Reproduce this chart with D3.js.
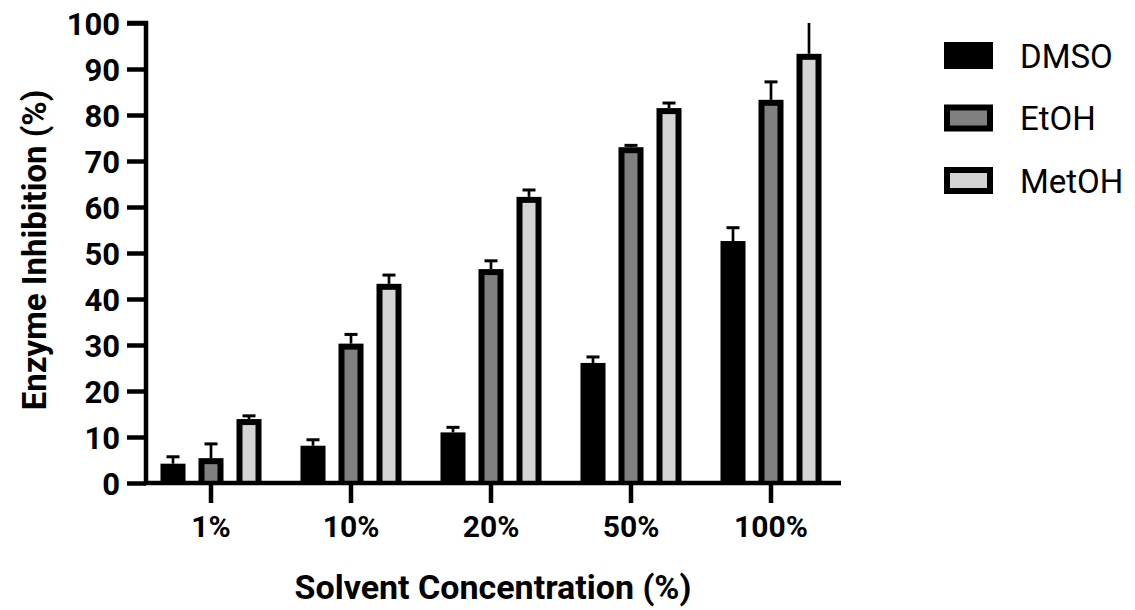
<!DOCTYPE html>
<html>
<head>
<meta charset="utf-8">
<script src="https://cdn.jsdelivr.net/npm/d3@7"></script>
<style>
  html, body { margin: 0; padding: 0; background: #fff; }
  svg { display: block; }
  text { font-family: Roboto, "DejaVu Sans", sans-serif; fill: #000; }
</style>
</head>
<body>
<svg id="chart" width="1135" height="610"></svg>
<script>
// Solvent concentrations on the x axis
const categories = ["1%", "10%", "20%", "50%", "100%"];
const seriesNames = ["DMSO", "EtOH", "MetOH"];
const seriesFills = ["#000000", "#808080", "#d4d4d4"];

// Mean enzyme inhibition (%) and error (upper whisker) per solvent
const dmsoMean  = [4.2, 8.1, 11.0, 26.1, 52.6];
const dmsoErr   = [1.5, 1.3, 1.1, 1.3, 2.9];
const etohMean  = [5.4, 30.3, 46.5, 73.0, 83.3];
const etohErr   = [3.1, 2.0, 1.8, 0.4, 3.9];
const metohMean = [13.9, 43.3, 62.2, 81.5, 93.3];
const metohErr  = [0.7, 1.9, 1.5, 1.1, 8.0];

const yTicks = [0, 10, 20, 30, 40, 50, 60, 70, 80, 90, 100];

const means = [dmsoMean, etohMean, metohMean];
const errs = [dmsoErr, etohErr, metohErr];

const svg = d3.select("#chart");

const plot = { left: 146, right: 841, top: 23, bottom: 483 };

const x0 = d3.scaleBand().domain(categories).range([141, 841]);
const x1 = d3.scaleBand().domain(seriesNames).range([0, x0.bandwidth()])
  .paddingInner(0.342).paddingOuter(0.513);
const y = d3.scaleLinear().domain([0, 100]).range([plot.bottom, plot.top]);

const border = 6;

svg.append("defs").append("clipPath").attr("id", "plotClip")
  .append("rect")
  .attr("x", plot.left).attr("y", plot.top)
  .attr("width", plot.right - plot.left).attr("height", plot.bottom - plot.top);

const data = [];
categories.forEach((c, i) => {
  seriesNames.forEach((s, j) => {
    data.push({ cat: c, series: s, j, value: means[j][i], err: errs[j][i] });
  });
});

const bars = svg.append("g").attr("clip-path", "url(#plotClip)");

const g = bars.selectAll("g.bar").data(data).join("g").attr("class", "bar");

// error whiskers (drawn first so bar border covers the base)
g.append("line")
  .attr("x1", d => x0(d.cat) + x1(d.series) + x1.bandwidth() / 2)
  .attr("x2", d => x0(d.cat) + x1(d.series) + x1.bandwidth() / 2)
  .attr("y1", d => y(d.value))
  .attr("y2", d => y(d.value + d.err))
  .attr("stroke", "#000").attr("stroke-width", 2.7);
g.append("line")
  .attr("x1", d => x0(d.cat) + x1(d.series) + x1.bandwidth() / 2 - 6.5)
  .attr("x2", d => x0(d.cat) + x1(d.series) + x1.bandwidth() / 2 + 6.5)
  .attr("y1", d => y(d.value + d.err))
  .attr("y2", d => y(d.value + d.err))
  .attr("stroke", "#000").attr("stroke-width", 3);

// outer black frame of each bar
g.append("rect")
  .attr("x", d => x0(d.cat) + x1(d.series))
  .attr("y", d => y(d.value))
  .attr("width", x1.bandwidth())
  .attr("height", d => y(0) - y(d.value))
  .attr("fill", "#000");

// inner fill
g.filter(d => d.j > 0).append("rect")
  .attr("x", d => x0(d.cat) + x1(d.series) + border)
  .attr("y", d => y(d.value) + border)
  .attr("width", x1.bandwidth() - 2 * border)
  .attr("height", d => Math.max(0, y(0) - y(d.value) - border))
  .attr("fill", d => seriesFills[d.j]);

// y axis
const yAxis = d3.axisLeft(y).tickValues(yTicks).tickSize(19).tickPadding(7);
const yg = svg.append("g").attr("transform", `translate(${plot.left},0)`).call(yAxis);
yg.select(".domain").attr("stroke-width", 4.5).attr("d", `M-19,${plot.top}H0V${plot.bottom + 2}`);
yg.selectAll(".tick line").attr("stroke-width", 4.5);
yg.selectAll(".tick text")
  .style("font-size", "31px").style("font-weight", "700")
  .attr("font-family", null).attr("dy", "0.36em");

// x axis
const xAxis = d3.axisBottom(x0).tickSize(20).tickPadding(13);
const xg = svg.append("g").attr("transform", `translate(0,${plot.bottom})`).call(xAxis);
xg.select(".domain").attr("stroke-width", 4.5).attr("d", `M${plot.left - 2},0H${plot.right}`);
xg.selectAll(".tick line").attr("stroke-width", 4.5);
xg.selectAll(".tick text")
  .style("font-size", "30px").style("font-weight", "700")
  .attr("font-family", null);

// axis titles
svg.append("text")
  .attr("transform", "translate(46,250) rotate(-90)")
  .attr("text-anchor", "middle")
  .style("font-size", "33px").style("font-weight", "700")
  .text("Enzyme Inhibition (%)");

svg.append("text")
  .attr("x", 493).attr("y", 599)
  .attr("text-anchor", "middle")
  .style("font-size", "34px").style("font-weight", "700")
  .text("Solvent Concentration (%)");

// legend
const legend = svg.append("g").attr("transform", "translate(944,42)");
const li = legend.selectAll("g").data(seriesNames).join("g")
  .attr("transform", (d, i) => `translate(0,${i * 62.5})`);
li.append("rect").attr("width", 49).attr("height", 27).attr("fill", "#000");
li.filter((d, i) => i > 0).append("rect")
  .attr("x", border).attr("y", border)
  .attr("width", 49 - 2 * border).attr("height", 27 - 2 * border)
  .attr("fill", (d, i) => seriesFills[i + 1]);
li.append("text")
  .attr("x", 76).attr("y", 14).attr("dy", "0.36em")
  .style("font-size", "33px")
  .text(d => d);
</script>
</body>
</html>
